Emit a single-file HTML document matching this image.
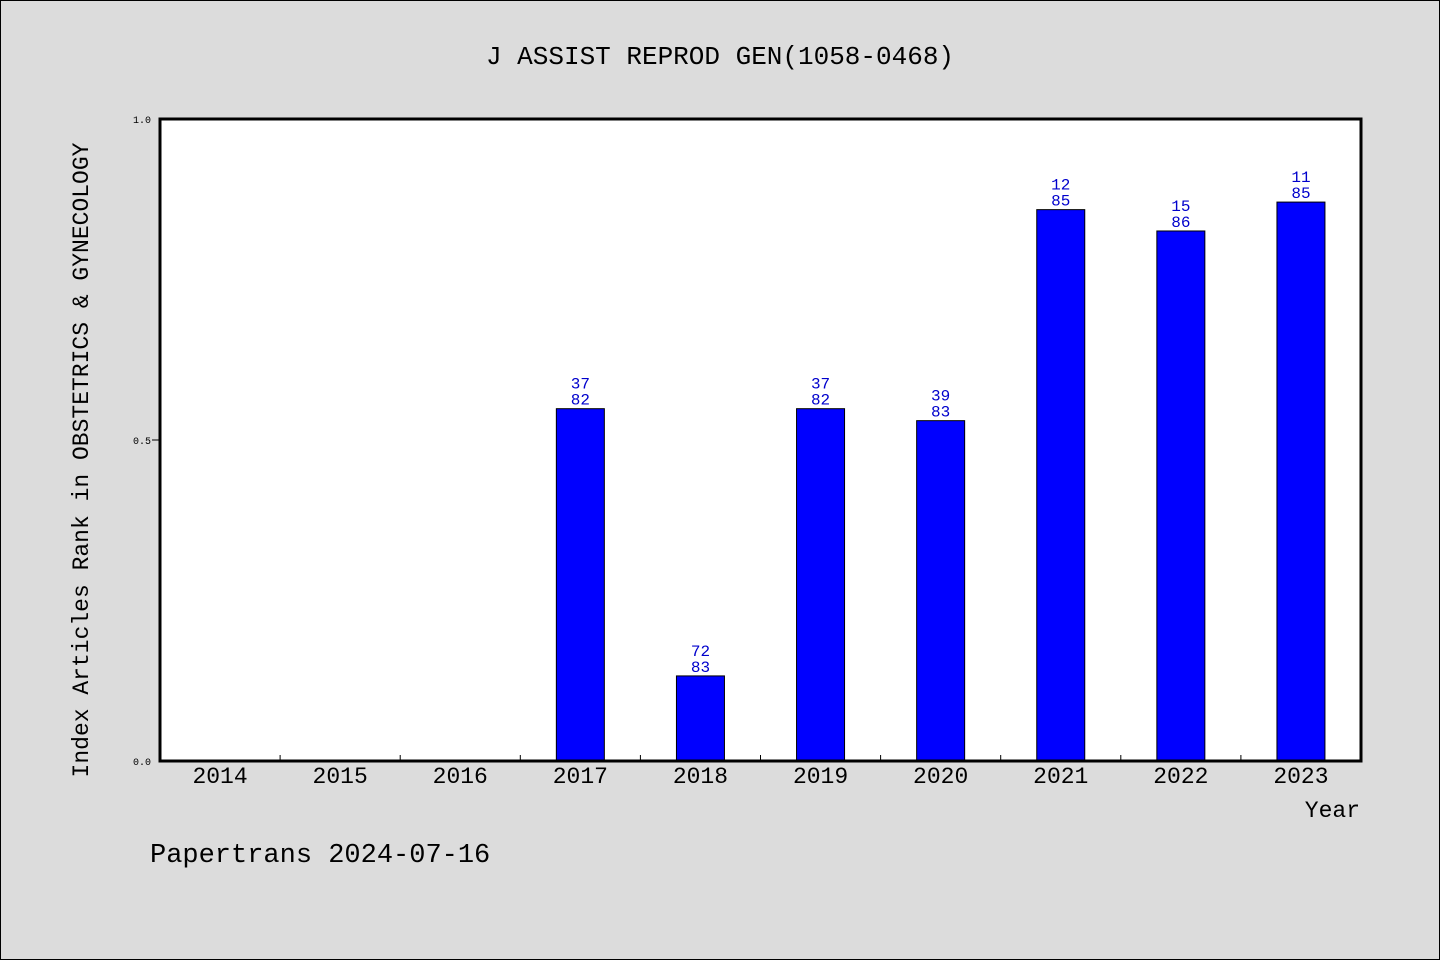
<!DOCTYPE html>
<html><head><meta charset="utf-8"><style>
html,body{margin:0;padding:0;background:#dcdcdc;}
svg{display:block;font-family:"WenQuanYi Zen Hei","Liberation Mono",monospace;}
</style></head><body>
<svg id="chart" width="1440" height="960" viewBox="0 0 1440 960">
<rect x="0.5" y="0.5" width="1439" height="959" fill="#dcdcdc" stroke="#000"/>
<text x="720" y="64" font-size="26" text-anchor="middle">J ASSIST REPROD GEN(1058-0468)</text>
<rect x="160" y="119" width="1201" height="642" fill="#fff"/>
<g id="bars"></g>
<rect x="160" y="119" width="1201" height="642" fill="none" stroke="#000" stroke-width="3"/>
<g id="axes"></g>
<text transform="translate(88,460) rotate(-90)" font-size="23" text-anchor="middle">Index Articles Rank in OBSTETRICS &amp; GYNECOLOGY</text>
<text x="1360" y="817" font-size="23" text-anchor="end">Year</text>
<text x="150" y="862" font-size="27">Papertrans 2024-07-16</text>
</svg>
<script>
const years = ["2014","2015","2016","2017","2018","2019","2020","2021","2022","2023"];
const ranks = [null,null,null,37,72,37,39,12,15,11];
const totals = [null,null,null,82,83,82,83,85,86,85];
const yTicks = [0,0.5,1];
const yTickLabels = ["0.0","0.5","1.0"];

const NS="http://www.w3.org/2000/svg";
const x0=160,x1=1361,y0=761,y1=119;
const bw=(x1-x0)/years.length;
const xs=i=>x0+bw*i;
const ys=v=>y0-(y0-y1)*v;
const bars=document.getElementById('bars'), axes=document.getElementById('axes');
function mk(tag,attrs,parent){const e=document.createElementNS(NS,tag);for(const k in attrs)e.setAttribute(k,attrs[k]);parent.appendChild(e);return e;}
years.forEach((yr,i)=>{
  const cx=xs(i)+bw/2;
  const t=mk('text',{x:cx,y:783,'font-size':23,'text-anchor':'middle'},axes);
  
  
  t.textContent=yr;
  if(i>0){const tk=mk('line',{x1:xs(i),x2:xs(i),y1:y0,y2:y0-6,stroke:'#000','stroke-width':1},axes);
    
    }
  if(ranks[i]==null)return;
  const v=(totals[i]-ranks[i])/totals[i];
  const top=ys(v);
  const r=mk('rect',{x:cx-24,y:top,width:48,height:y0-top,fill:'#0000ff',stroke:'#000','stroke-width':1},bars);
  
  
  const l1=mk('text',{x:cx,y:top-20,'font-size':16,fill:'#0000cc','text-anchor':'middle'},bars);
  
  
  l1.textContent=ranks[i];
  const l2=mk('text',{x:cx,y:top-4,'font-size':16,fill:'#0000cc','text-anchor':'middle'},bars);
  
  
  l2.textContent=totals[i];
});
yTicks.forEach((v,i)=>{
  const y=ys(v);
  const t=mk('text',{x:151,y:y+4,'font-size':10,'text-anchor':'end'},axes);
  
  
  t.textContent=yTickLabels[i];
  if(v>0&&v<1){const tk=mk('line',{x1:152,x2:160,y1:y,y2:y,stroke:'#000'},axes);
    
    }
});
</script>
</body></html>
